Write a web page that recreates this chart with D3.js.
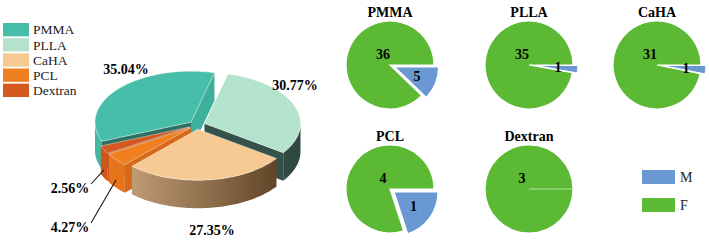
<!DOCTYPE html>
<html>
<head>
<meta charset="utf-8">
<script src="https://cdn.jsdelivr.net/npm/d3@7"></script>
<style>
  body { margin: 0; background: #fff; }
  svg { display: block; }
</style>
</head>
<body>
<svg id="chart" width="709" height="241"></svg>
<script>
// data
var groups = ["PMMA", "PLLA", "CaHA", "PCL", "Dextran"];
var counts = [41, 36, 32, 5, 3];
var maleCounts = [5, 1, 1, 1, 0];
var femaleCounts = [36, 35, 31, 4, 3];
var sexes = ["M", "F"];

var w = 709, h = 241;
var serif = "'Liberation Serif','Times New Roman',serif";

var topColors = ["#47bea9", "#b3e2cd", "#f8ca93", "#f07f1f", "#d5581f"];
var wallLight = ["#45b8a3", "#4d6e65", "#d3ae85", "#e8761c", "#cf561d"];
var wallDark  = ["#38a08c", "#2f4841", "#573b1f", "#c95f17", "#b44a18"];
// colours of the cut faces: [start side, end side]
var cutColors = [["#2e6f63", "#3db09b"], ["#35524a", "#35524a"], ["#c39a6c", "#c39a6c"],
                 ["#d66a1a", "#d66a1a"], ["#c04f1a", "#c04f1a"]];
var sexColor = { M: "#6a98d2", F: "#5cb934" };

var svg = d3.select("#chart");
var defs = svg.append("defs");

// ---------- 3D pie ----------
var cx = 197, cy = 125, rx = 96, ry = 51, depth = 28, explode = 8;
var startA = 248 * Math.PI / 180;
var slices = d3.pie().sort(null)
  .startAngle(startA).endAngle(startA + 2 * Math.PI)(counts);

function pt(a, off, k, z) {
  return [cx + off[0] + rx * k * Math.sin(a), cy + off[1] - ry * k * Math.cos(a) + (z || 0)];
}
function rim(a0, a1, off, z) {
  var n = Math.max(2, Math.ceil((a1 - a0) / 0.03));
  return d3.range(n + 1).map(function(i) { return pt(a0 + (a1 - a0) * i / n, off, 1, z); });
}
var line = d3.line();

slices.forEach(function(s, i) {
  s.mid = (s.startAngle + s.endAngle) / 2;
  s.off = [explode * Math.sin(s.mid), -explode * Math.cos(s.mid) * ry / rx];
  s.i = i;
  var g = defs.append("linearGradient").attr("id", "wall" + i)
    .attr("gradientUnits", "userSpaceOnUse")
    .attr("x1", cx - rx).attr("x2", cx + rx).attr("y1", 0).attr("y2", 0);
  g.append("stop").attr("offset", "0%").attr("stop-color", wallLight[i]);
  g.append("stop").attr("offset", "100%").attr("stop-color", wallDark[i]);
});

var sides = svg.append("g");
slices.slice().sort(function(a, b) { return pt(a.mid, a.off, 0.5)[1] - pt(b.mid, b.off, 0.5)[1]; })
  .forEach(function(s) {
    var apex = pt(0, s.off, 0), apexB = pt(0, s.off, 0, depth);
    // radial walls that face the viewer
    [[s.startAngle, Math.sin(s.startAngle) < 0, 0], [s.endAngle, Math.sin(s.endAngle) > 0, 1]].forEach(function(wl) {
      if (!wl[1]) return;
      var p = [apex, pt(wl[0], s.off, 1), pt(wl[0], s.off, 1, depth), apexB];
      sides.append("path").attr("d", line(p) + "Z").attr("fill", cutColors[s.i][wl[2]]);
    });
    // outer wall, front half only
    [0, 1, 2].forEach(function(k) {
      var lo = Math.max(s.startAngle, Math.PI / 2 + 2 * Math.PI * k);
      var hi = Math.min(s.endAngle, 3 * Math.PI / 2 + 2 * Math.PI * k);
      if (hi <= lo) return;
      var p = rim(lo, hi, s.off, 0).concat(rim(lo, hi, s.off, depth).reverse());
      sides.append("path").attr("d", line(p) + "Z").attr("fill", "url(#wall" + s.i + ")");
    });
  });

svg.append("g").selectAll("path").data(slices).enter().append("path")
  .attr("d", function(s) {
    return line([pt(0, s.off, 0)].concat(rim(s.startAngle, s.endAngle, s.off, 0))) + "Z";
  })
  .attr("fill", function(s) { return topColors[s.i]; })
  .attr("stroke", "#ffffff").attr("stroke-opacity", 0.5).attr("stroke-width", 0.8);

// percent labels
var fmt = d3.format(".2%");
var labelPos = [[126, 74], [295, 90], [212, 235], [70, 232], [70, 193]];
svg.append("g").selectAll("text").data(slices).enter().append("text")
  .attr("x", function(s) { return labelPos[s.i][0]; })
  .attr("y", function(s) { return labelPos[s.i][1]; })
  .attr("text-anchor", "middle")
  .style("font-family", serif).style("font-weight", "bold").style("font-size", "14px")
  .text(function(s) { return fmt(s.value / d3.sum(counts)); });

// leader lines for the two small slices
svg.append("g").selectAll("line").data(slices.filter(function(s) { return s.i >= 3; })).enter().append("line")
  .attr("x1", function(s) { return labelPos[s.i][0] + 21; })
  .attr("y1", function(s) { return labelPos[s.i][1] - 9; })
  .attr("x2", function(s) { return pt(s.mid, s.off, 1, depth * 0.72)[0]; })
  .attr("y2", function(s) { return pt(s.mid, s.off, 1, depth * 0.72)[1]; })
  .attr("stroke", "#222").attr("stroke-width", 1.1);

// left legend
var legY = d3.scaleBand().domain(groups).range([23, 97]).paddingInner(0.12);
var leg = svg.append("g").selectAll("g").data(groups).enter().append("g");
leg.append("rect").attr("x", 3).attr("y", function(d) { return legY(d); })
  .attr("width", 26).attr("height", legY.bandwidth())
  .attr("fill", function(d, i) { return topColors[i]; });
leg.append("text").attr("x", 33).attr("y", function(d) { return legY(d) + legY.bandwidth() / 2; })
  .attr("dy", "0.35em")
  .style("font-family", serif).style("font-size", "13.5px").style("fill", "#222")
  .text(function(d) { return d; });

// ---------- small pies by sex ----------
var cols = [390, 529, 657], rows = [65, 189];
var r = 44, pop = 5;
var sexPie = d3.pie().sort(null).startAngle(Math.PI / 2).endAngle(Math.PI / 2 + 2 * Math.PI);
var arc = d3.arc().innerRadius(0).outerRadius(r);

groups.forEach(function(name, i) {
  var px = cols[i % 3], py = rows[Math.floor(i / 3)];
  var g = svg.append("g").attr("transform", "translate(" + px + "," + py + ")");
  var parts = sexPie([maleCounts[i], femaleCounts[i]]);
  parts.forEach(function(p, j) {
    var mid = (p.startAngle + p.endAngle) / 2;
    var dx = j === 0 ? pop * Math.sin(mid) : 0, dy = j === 0 ? -pop * Math.cos(mid) : 0;
    if (p.value === 0) return;
    g.append("path").attr("d", arc(p))
      .attr("transform", "translate(" + dx + "," + dy + ")")
      .attr("fill", sexColor[sexes[j]])
      .attr("stroke", "#fff").attr("stroke-width", 1.2);
  });
  // zero-size slice shows as a thin boundary line
  if (parts[0].value === 0) {
    g.append("line").attr("x1", 0).attr("y1", 0)
      .attr("x2", r * Math.sin(parts[0].startAngle)).attr("y2", -r * Math.cos(parts[0].startAngle))
      .attr("stroke", "#b5e39c").attr("stroke-width", 1.2);
  }
  // F label and M label
  var f = parts[1], m = parts[0];
  g.append("text").attr("x", -7).attr("y", -11).attr("dy", "0.35em").attr("text-anchor", "middle")
    .style("font-family", serif).style("font-weight", "bold").style("font-size", "14px")
    .text(f.value);
  if (m.value > 0) {
    var mm = (m.startAngle + m.endAngle) / 2, lr = r * 0.55 + pop;
    g.append("text").attr("x", lr * Math.sin(mm)).attr("y", -lr * Math.cos(mm))
      .attr("dy", "0.35em").attr("text-anchor", "middle")
      .style("font-family", serif).style("font-weight", "bold").style("font-size", "14px")
      .text(m.value);
  }
  g.append("text").attr("x", 0).attr("y", -48).attr("text-anchor", "middle")
    .style("font-family", serif).style("font-weight", "bold").style("font-size", "14px")
    .text(name);
});

// sex legend
var sexY = d3.scalePoint().domain(sexes).range([177, 205]);
var sl = svg.append("g").selectAll("g").data(sexes).enter().append("g");
sl.append("rect").attr("x", 642).attr("y", function(d) { return sexY(d) - 7; })
  .attr("width", 33).attr("height", 14).attr("fill", function(d) { return sexColor[d]; });
sl.append("text").attr("x", 680).attr("y", function(d) { return sexY(d); }).attr("dy", "0.35em")
  .style("font-family", serif).style("font-size", "14px").style("fill", "#222")
  .text(function(d) { return d; });
</script>
</body>
</html>
